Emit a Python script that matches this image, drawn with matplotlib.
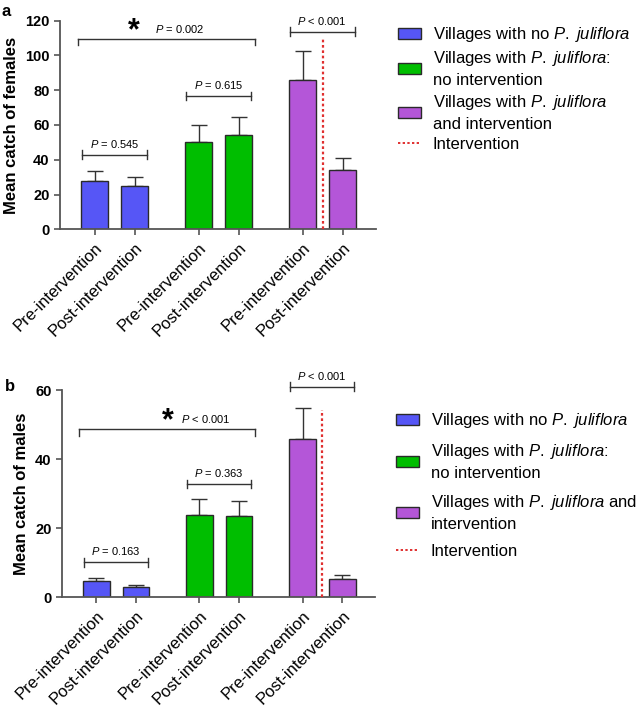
import numpy as np
import matplotlib
matplotlib.use("Agg")
import matplotlib.pyplot as plt
from matplotlib.patches import Patch
from matplotlib.lines import Line2D

plt.rcParams['font.family'] = ['Liberation Sans', 'DejaVu Sans']
plt.rcParams['mathtext.fontset'] = 'custom'
plt.rcParams['mathtext.rm'] = 'Liberation Sans'
plt.rcParams['mathtext.it'] = 'Liberation Sans:italic'

# ---- data ----
tick_labels = ["Pre-intervention", "Post-intervention"] * 3
bar_colors = ["#5656f6", "#5656f6", "#00be00", "#00be00", "#b456d8", "#b456d8"]

females_mean = [28, 25, 50, 54, 86, 34]
females_err = [5.5, 5.3, 10, 10.5, 16.5, 6.8]
males_mean = [4.7, 2.9, 23.8, 23.4, 45.8, 5.3]
males_err = [1.0, 0.7, 4.6, 4.4, 9.0, 1.3]

# (left bar, right bar, height, text)
females_pairs = [(0, 1, 43, "= 0.545"), (2, 3, 76.5, "= 0.615"), (4, 5, 113.7, "< 0.001")]
males_pairs = [(0, 1, 10.1, "= 0.163"), (2, 3, 32.7, "= 0.363"), (4, 5, 61, "< 0.001")]
females_big = (109.3, "= 0.002")
males_big = (48.6, "< 0.001")

pos = np.array([0, 1, 2.6, 3.6, 5.2, 6.2])
intervention_x = (pos[4] + pos[5]) / 2

fig = plt.figure(figsize=(6.38, 7.10), dpi=100)
ax1 = fig.add_axes([0.094, 0.677, 0.495, 0.294])
ax2 = fig.add_axes([0.097, 0.1587, 0.491, 0.292])

GRAY = "#555555"


def draw_panel(ax, means, errs, ymax, ystep, ylabel, pairs, big, line_top, big_star_dx, big_txt_dx):
    ax.bar(pos, means, width=0.67, color=bar_colors, edgecolor="#2a2a2a", linewidth=1.0, zorder=2)
    ax.errorbar(pos, means, yerr=[np.zeros(len(errs)), errs], fmt="none",
                ecolor="#333333", elinewidth=1.0, capsize=6, capthick=1.0, zorder=1)
    ax.set_xlim(-0.87, 7.03)
    ax.set_ylim(0, ymax)
    ax.set_yticks(np.arange(0, ymax + 1, ystep))
    ax.set_xticks(pos)
    ax.set_xticklabels(tick_labels, rotation=45, ha="right", va="top",
                       rotation_mode="anchor", fontsize=12)
    for lab in ax.get_yticklabels():
        lab.set_fontweight("bold")
        lab.set_fontsize(10.5)
    ax.set_ylabel(ylabel, fontsize=12, fontweight="bold", labelpad=4)
    for s in ["top", "right"]:
        ax.spines[s].set_visible(False)
    for s in ["left", "bottom"]:
        ax.spines[s].set_color(GRAY)
        ax.spines[s].set_linewidth(1.3)
    ax.tick_params(colors=GRAY, width=1.2, length=4, labelcolor="black")

    # intervention line
    ax.plot([intervention_x, intervention_x], [0, line_top], color="#e03030",
            linestyle=(0, (1.2, 1.2)), linewidth=1.6, zorder=3)

    tick_h = ymax * 0.02
    for i, j, h, txt in pairs:
        x0 = pos[i] - 0.32
        x1 = pos[j] + 0.3
        ax.plot([x0, x1], [h, h], color="#333333", lw=1.0, clip_on=False)
        ax.plot([x0, x0], [h - tick_h, h + tick_h], color="#333333", lw=1.0, clip_on=False)
        ax.plot([x1, x1], [h - tick_h, h + tick_h], color="#333333", lw=1.0, clip_on=False)
        ax.text((x0 + x1) / 2, h + tick_h * 1.2, r"$\it{P}$ " + txt, ha="center", va="bottom",
                fontsize=8, clip_on=False)

    # large bracket between group 1 and group 2
    h, txt = big
    x0 = pos[0] - 0.43
    x1 = pos[3] + 0.4
    ax.plot([x0, x1], [h, h], color="#333333", lw=1.0)
    ax.plot([x0, x0], [h, h - tick_h * 1.5], color="#333333", lw=1.0)
    ax.plot([x1, x1], [h, h - tick_h * 1.5], color="#333333", lw=1.0)
    ax.text(pos[0] + big_star_dx, h - tick_h * 1.6, "*", ha="center", va="bottom",
            fontsize=22, fontweight="bold")
    ax.text(pos[0] + big_txt_dx, h + tick_h * 1.0, r"$\it{P}$ " + txt, ha="left",
            va="bottom", fontsize=8)


draw_panel(ax1, females_mean, females_err, 120, 20, "Mean catch of females",
           females_pairs, females_big, 110, 0.98, 1.5)
draw_panel(ax2, males_mean, males_err, 60, 20, "Mean catch of males",
           males_pairs, males_big, 54.2, 1.8, 2.13)

pj = r"$\it{P.}$ $\it{juliflora}$"
handles = [Patch(facecolor=bar_colors[0], edgecolor="#2a2a2a", lw=1.0),
           Patch(facecolor=bar_colors[2], edgecolor="#2a2a2a", lw=1.0),
           Patch(facecolor=bar_colors[4], edgecolor="#2a2a2a", lw=1.0),
           Line2D([], [], color="#e03030", linestyle=(0, (1.2, 1.2)), lw=1.4)]
labels_a = ["Villages with no " + pj, "Villages with " + pj + ":\nno intervention",
            "Villages with " + pj + "\nand intervention", "Intervention"]
labels_b = ["Villages with no " + pj, "Villages with " + pj + ":\nno intervention",
            "Villages with " + pj + " and\nintervention", "Intervention"]

leg_a = fig.legend(handles, labels_a, loc="upper left", bbox_to_anchor=(398 / 638, 1 - 25 / 710),
                   frameon=False, fontsize=12, handlelength=1.36, handleheight=0.66,
                   handletextpad=0.74, labelspacing=0.3, borderpad=0, borderaxespad=0)
leg_b = fig.legend(handles, labels_b, loc="upper left", bbox_to_anchor=(396 / 638, 1 - 411 / 710),
                   frameon=False, fontsize=12, handlelength=1.36, handleheight=0.66,
                   handletextpad=0.74, labelspacing=0.72, borderpad=0, borderaxespad=0)
for leg in (leg_a, leg_b):
    for t in leg.get_texts():
        t.set_linespacing(1.4)

fig.text(0.003, 0.995, "a", fontsize=12, fontweight="bold", va="top")
fig.text(0.008, 0.466, "b", fontsize=12, fontweight="bold", va="top")

fig.savefig("out.png", dpi=100)
